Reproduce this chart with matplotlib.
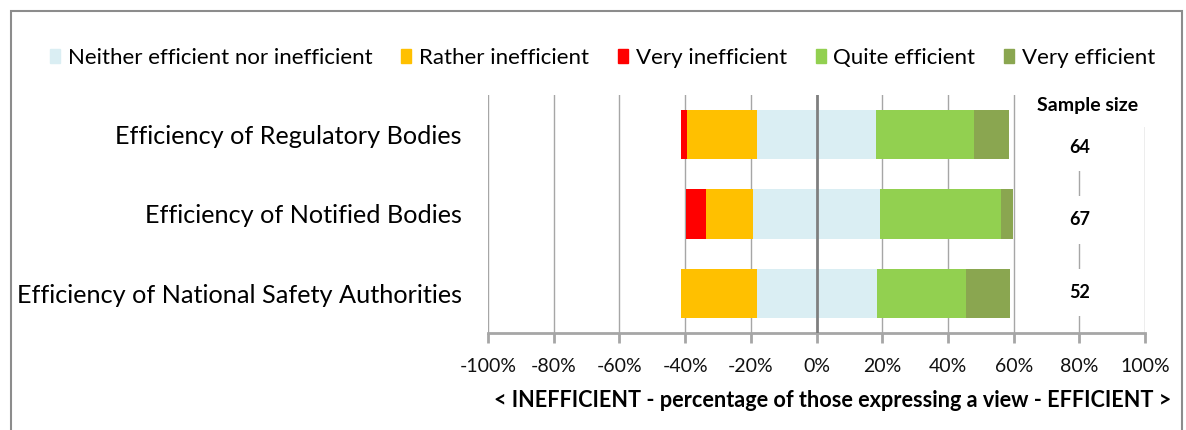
import matplotlib.pyplot as plt
from matplotlib.patches import Patch, Rectangle
from matplotlib.ticker import FuncFormatter
import numpy as np

plt.rcParams['font.family'] = ['Lato', 'DejaVu Sans']

categories = ["Efficiency of Regulatory Bodies",
              "Efficiency of Notified Bodies",
              "Efficiency of National Safety Authorities"]
sample_size = [64, 67, 52]

# shares in percent of those expressing a view
neither = [36.2, 38.8, 36.5]
rather_ineff = [21.3, 14.2, 22.9]
very_ineff = [2.0, 6.1, 0.0]
quite_eff = [29.9, 36.8, 27.3]
very_eff = [10.6, 3.7, 13.4]

xticks = [-100, -80, -60, -40, -20, 0, 20, 40, 60, 80, 100]

c_neither = '#DAEEF3'
c_rather = '#FFC000'
c_very_in = '#FF0000'
c_quite = '#92D050'
c_very_eff = '#8AA650'
grid_c = '#A6A6A6'

fig = plt.figure(figsize=(11.86, 4.30), dpi=100)
ax = fig.add_axes([0.4115, 0.2256, 0.554, 0.5535])

y = np.arange(len(categories))
half = np.array(neither) / 2
h = 0.625

# neutral split around zero, negatives go left, positives right
ax.barh(y, neither, left=-half, height=h, color=c_neither, zorder=2)
ax.barh(y, [-v for v in rather_ineff], left=-half, height=h, color=c_rather, zorder=2)
ax.barh(y, [-v for v in very_ineff], left=-half - np.array(rather_ineff),
        height=h, color=c_very_in, zorder=2)
ax.barh(y, quite_eff, left=half, height=h, color=c_quite, zorder=2)
ax.barh(y, very_eff, left=half + np.array(quite_eff), height=h,
        color=c_very_eff, zorder=2)

ax.set_xlim(-100, 100)
ax.set_ylim(2.5, -0.5)
ax.set_xticks(xticks)
ax.xaxis.set_major_formatter(FuncFormatter(lambda v, p: f"{v:.0f}%"))
for t in xticks:
    if t == 0:
        ax.axvline(t, color='#7F7F7F', lw=2, zorder=3)
    else:
        ax.axvline(t, color=grid_c, lw=1, zorder=1)

ax.set_yticks(y)
ax.set_yticklabels(categories, fontsize=18.2)
ax.tick_params(axis='y', length=0, pad=19)
ax.tick_params(axis='x', length=7, width=2, color=grid_c, labelsize=14,
               pad=11, labelcolor='#111111')
for s in ['top', 'right', 'left']:
    ax.spines[s].set_visible(False)
ax.spines['bottom'].set_color(grid_c)
ax.spines['bottom'].set_linewidth(2)

ax.set_xlabel("< INEFFICIENT - percentage of those expressing a view - EFFICIENT >",
              fontsize=15.6, fontweight='bold', labelpad=11, x=0.524)

# sample size column
ax.text(82.5, -0.37, "Sample size", ha='center', va='center', fontsize=14,
        fontweight='bold', zorder=5,
        bbox=dict(boxstyle='square,pad=0.7', fc='white', ec='none'))
for yy, n in zip(np.linspace(0.16, 1.99, len(sample_size)), sample_size):
    ax.text(80, yy, str(n), ha='center', va='center', fontsize=13,
            fontweight='bold', zorder=5,
            bbox=dict(boxstyle='square,pad=0.85', fc='white', ec='none'))

handles = [Patch(color=c_neither), Patch(color=c_rather), Patch(color=c_very_in),
           Patch(color=c_quite), Patch(color=c_very_eff)]
labels = ["Neither efficient nor inefficient", "Rather inefficient",
          "Very inefficient", "Quite efficient", "Very efficient"]
fig.legend(handles, labels, loc='center', bbox_to_anchor=(0.508, 0.865), ncol=5,
           frameon=False, fontsize=16, handlelength=0.45, handleheight=0.6,
           handletextpad=0.35, columnspacing=1.3)

fig.patches.append(Rectangle((0.009, -0.1), 0.988, 1.074, transform=fig.transFigure,
                             fill=False, ec='#8C8C8C', lw=1.5))

fig.savefig('out.png', dpi=100)
